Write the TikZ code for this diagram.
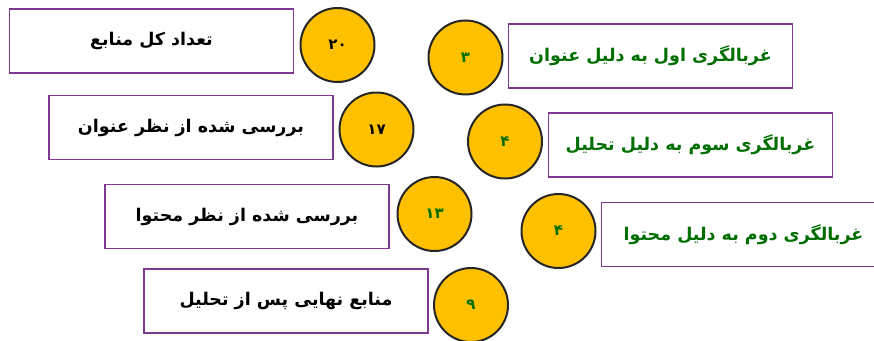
\documentclass[tikz,border=0pt]{standalone}
\usepackage{fontspec}
\TeXXeTstate=1
\newfontfamily\arabicfont[Script=Arabic]{DejaVu Sans}
\definecolor{boxline}{RGB}{128,57,145}
\definecolor{disk}{RGB}{255,192,0}
\definecolor{diskline}{RGB}{38,38,38}
\definecolor{gtext}{RGB}{0,110,0}
\tikzset{
  numdisk/.style={circle, fill=disk, draw=diskline, line width=2pt, minimum size=74pt, inner sep=0pt,
    font=\arabicfont\bfseries\fontsize{15}{18}\selectfont},
  labelbox/.style={rectangle, draw=boxline, line width=1.3pt, fill=white, minimum width=284pt, minimum height=64pt, inner sep=0pt,
    font=\arabicfont\bfseries\fontsize{17.5}{21}\selectfont},
}
\begin{document}
\begin{tikzpicture}[x=1pt,y=-1pt]
\useasboundingbox (0,0) rectangle (874,340);
% left column
\node[labelbox] (b1) at (151.5,41) {\beginR تعداد کل منابع\endR};
\node[numdisk] (c1) at (337.5,45) {\beginR ۲۰\endR};
\node[labelbox] (b2) at (191,127.5) {\beginR بررسی شده از نظر عنوان\endR};
\node[numdisk] (c2) at (376.5,129.5) {\beginR ۱۷\endR};
\node[labelbox] (b3) at (247,216.5) {\beginR بررسی شده از نظر محتوا\endR};
\node[numdisk, text=gtext] (c3) at (434.5,214) {\beginR ۱۳\endR};
\node[labelbox] (b4) at (286,301) {\beginR منابع نهایی پس از تحلیل\endR};
\node[numdisk, text=gtext] (c4) at (471,305) {\beginR ۹\endR};
% right column
\node[numdisk, text=gtext] (d1) at (465.5,57.5) {\beginR ۳\endR};
\node[labelbox, text=gtext] (e1) at (650.5,56) {\beginR غربالگری اول به دلیل عنوان\endR};
\node[numdisk, text=gtext] (d2) at (505,141.5) {\beginR ۴\endR};
\node[labelbox, text=gtext] (e2) at (690.5,145) {\beginR غربالگری سوم به دلیل تحلیل\endR};
\node[numdisk, text=gtext] (d3) at (558.5,231) {\beginR ۴\endR};
\node[labelbox, text=gtext] (e3) at (743.5,234.5) {\beginR غربالگری دوم به دلیل محتوا\endR};
\end{tikzpicture}
\end{document}
